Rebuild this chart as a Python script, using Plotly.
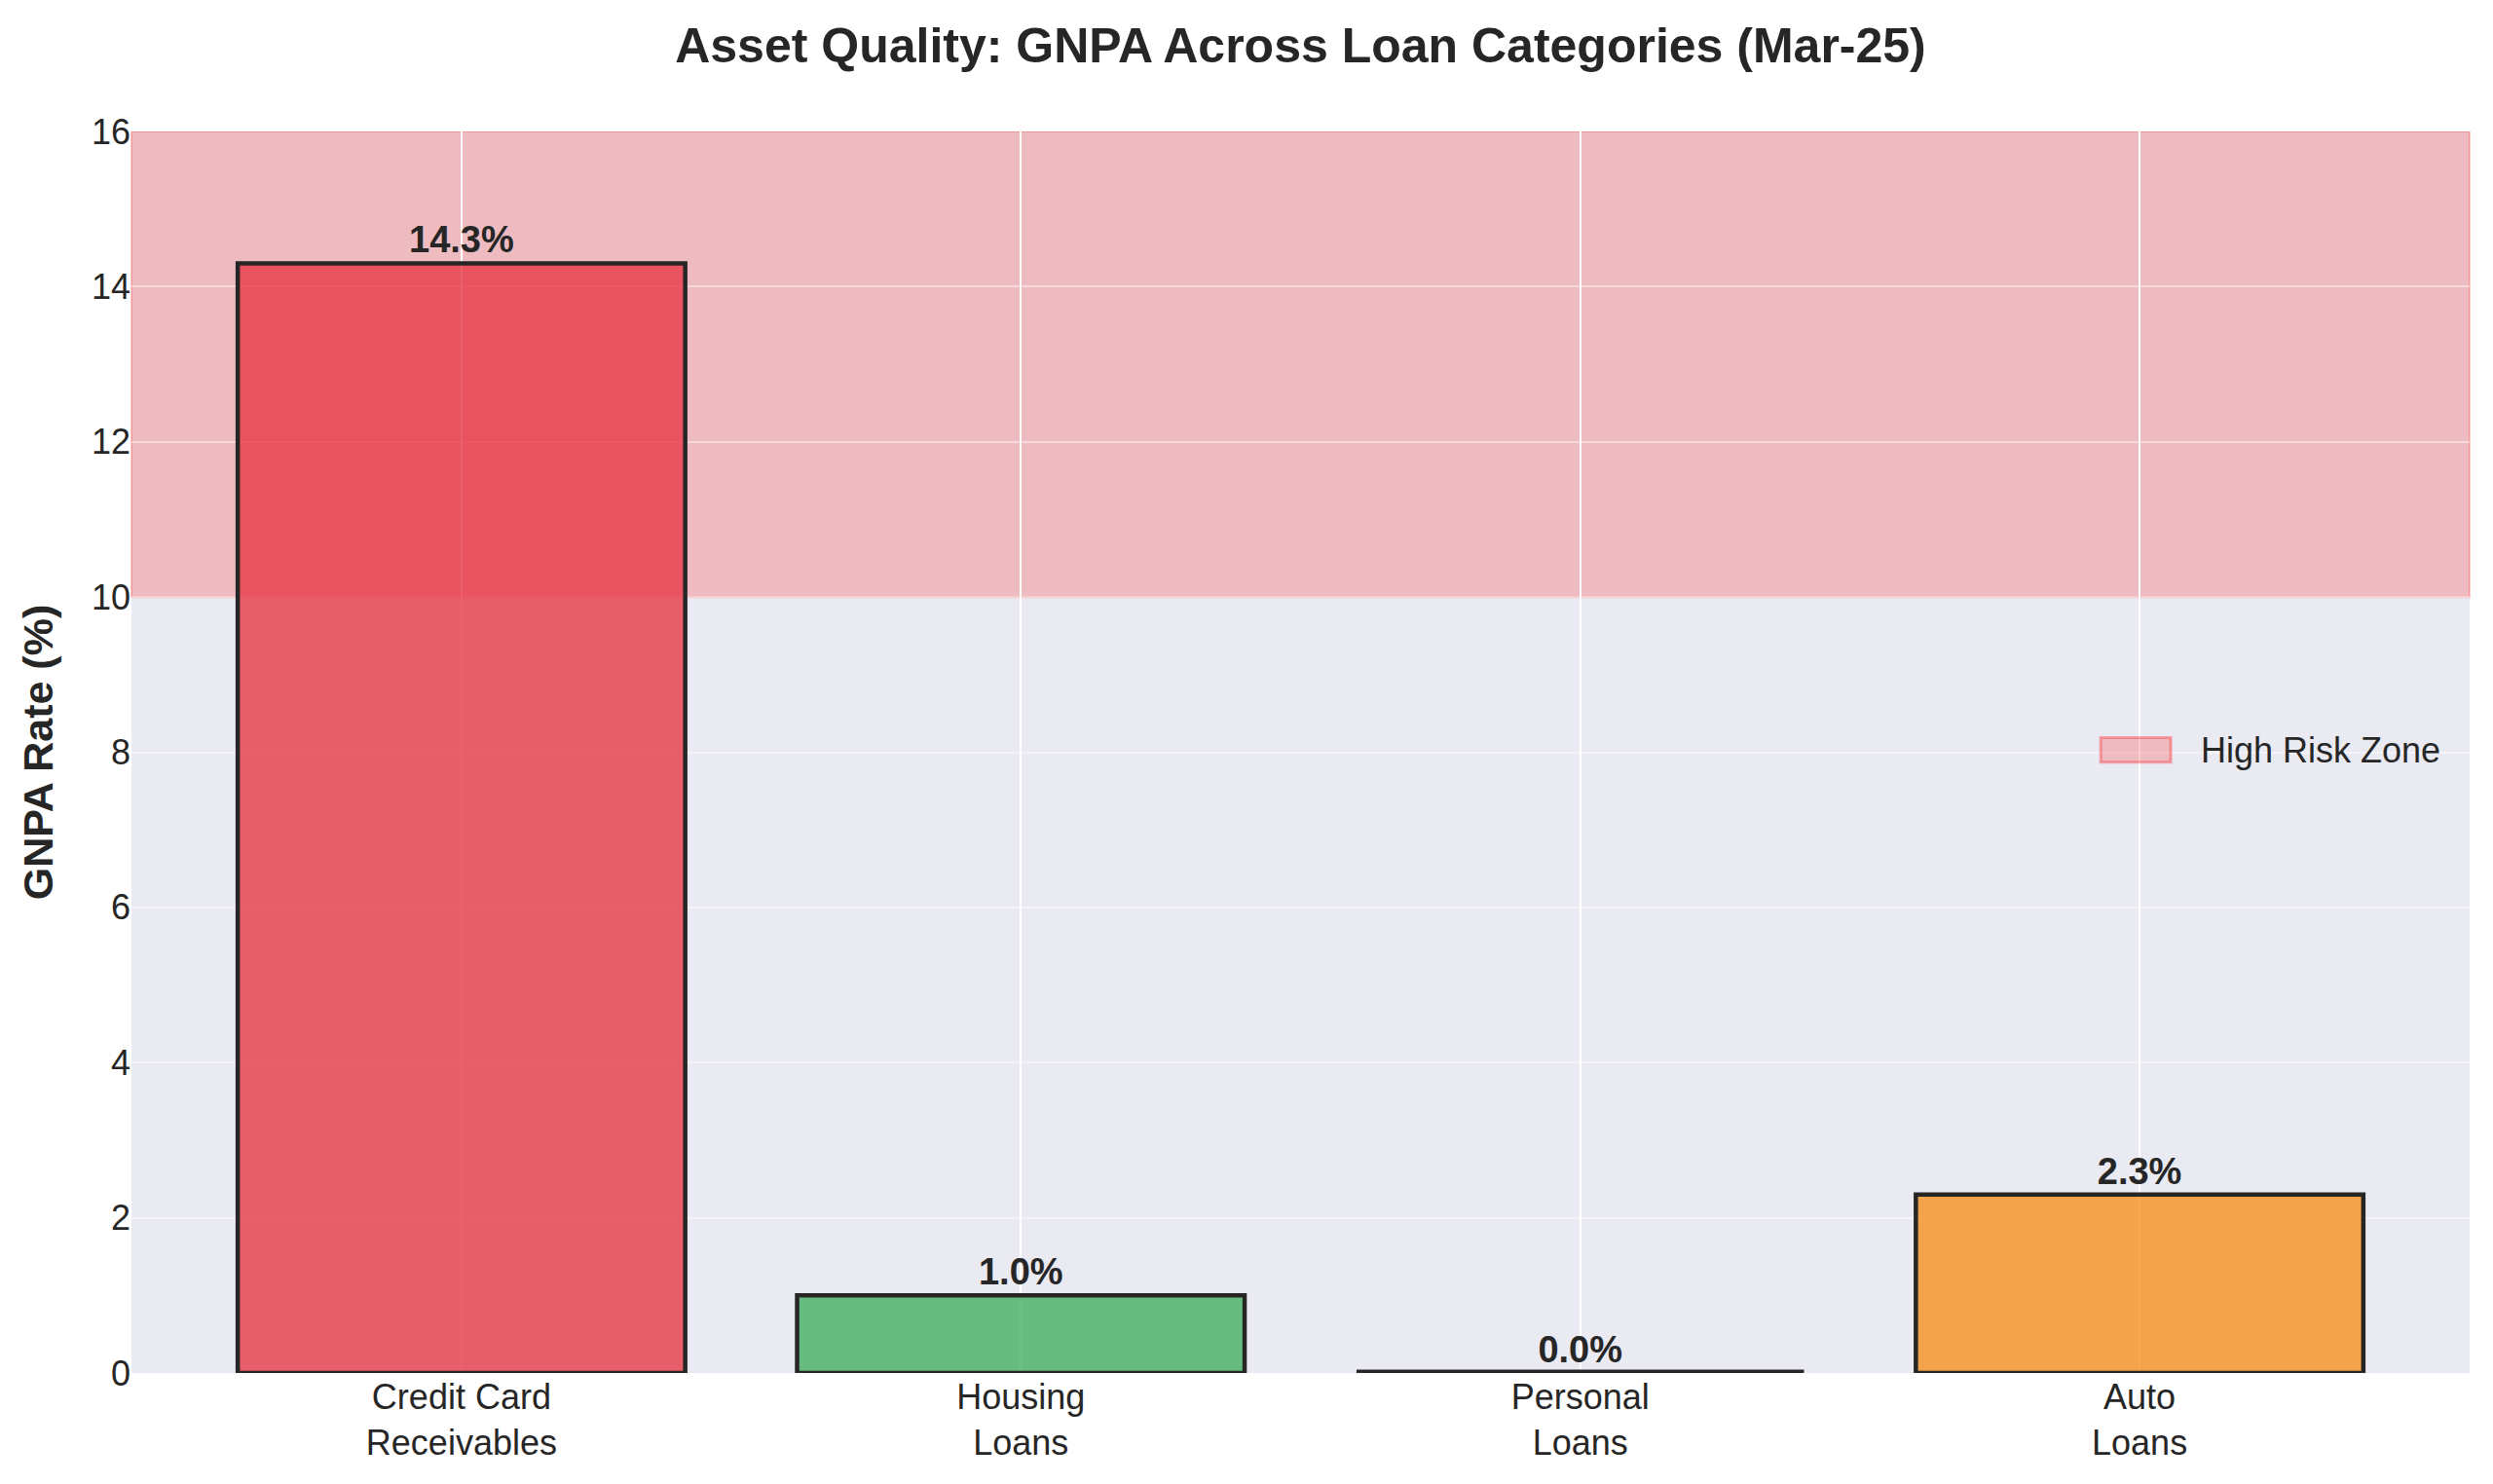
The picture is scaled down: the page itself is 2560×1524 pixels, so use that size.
import plotly.graph_objects as go

# data
categories = ["Credit Card<br>Receivables", "Housing<br>Loans", "Personal<br>Loans", "Auto<br>Loans"]
gnpa = [14.3, 1.0, 0.0, 2.3]
bar_colors = ["rgba(230,57,70,0.8)", "rgba(69,175,97,0.8)", "rgba(157,78,221,0.8)", "rgba(245,145,32,0.8)"]
risk_low, risk_high = 10, 16
y_ticks = [0, 2, 4, 6, 8, 10, 12, 14, 16]

FONT = "Liberation Sans, Arial, sans-serif"
DARK = "#262626"

fig = go.Figure()

fig.add_trace(go.Bar(
    x=list(range(len(categories))), y=gnpa,
    width=0.8,
    marker=dict(color=bar_colors, line=dict(color=DARK, width=[4.5, 4.5, 7, 4.5])),
    text=[f"{v:.1f}%" for v in gnpa],
    textposition="outside",
    textfont=dict(family=FONT, size=38, color=DARK, weight="bold"),
    cliponaxis=False,
    showlegend=False,
))

# high risk band
fig.add_shape(type="rect", xref="paper", yref="y", x0=0, x1=1, y0=risk_low, y1=risk_high,
              fillcolor="rgba(255,0,0,0.2)", line=dict(color="rgba(255,0,0,0.2)", width=2),
              layer="below")

# legend drawn by hand so the patch is a wide rectangle like matplotlib
fig.add_shape(type="rect", xref="paper", yref="paper", x0=0.8422, x1=0.8722, y0=0.492, y1=0.5117,
              fillcolor="rgba(255,0,0,0.2)", line=dict(color="rgba(255,0,0,0.3)", width=3))
fig.add_annotation(text="High Risk Zone", xref="paper", yref="paper", x=0.8842, y=0.5015,
                   xanchor="left", yanchor="middle", showarrow=False,
                   font=dict(family=FONT, size=36, color=DARK))

fig.update_layout(
    width=2560, height=1524,
    margin=dict(l=127, r=32, t=127, b=122),
    paper_bgcolor="white", plot_bgcolor="#EAEAF2",
    font=dict(family=FONT, size=36, color=DARK),
    title=dict(text="<b>Asset Quality: GNPA Across Loan Categories (Mar-25)</b>",
               x=0.5, xref="paper", xanchor="center", y=1 - 38 / 1524, yanchor="middle", yref="container",
               font=dict(size=50, color=DARK)),
    showlegend=False,
    bargap=0.2,
)

fig.update_xaxes(
    tickmode="array", tickvals=list(range(len(categories))), ticktext=categories,
    range=[-0.59, len(categories) - 1 + 0.59],
    showgrid=True, gridcolor="white", gridwidth=2,
    zeroline=False, showline=False, ticks="", ticklen=0,
    tickfont=dict(size=36, color=DARK),
)
fig.update_yaxes(
    range=[0, 16], tickvals=y_ticks,
    showgrid=True, gridcolor="rgba(255,255,255,0.45)", gridwidth=2,
    zeroline=False, showline=False, ticks="",
    tickfont=dict(size=36, color=DARK),
    title=dict(text="<b>GNPA Rate (%)</b>", font=dict(size=43, color=DARK), standoff=25),
)

fig.write_html("out.html")
